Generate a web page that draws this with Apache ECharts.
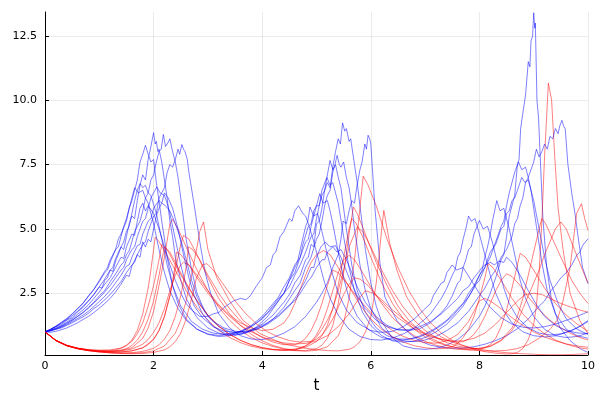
<!DOCTYPE html>
<html>
<head>
<meta charset="utf-8">
<script src="https://cdn.jsdelivr.net/npm/echarts@6/dist/echarts.min.js"></script>
<style>html,body{margin:0;padding:0;background:#fff}#c{width:600px;height:400px}</style>
</head>
<body>
<div id="c"></div>
<script>
// Axis settings
const xTicks = [0, 2, 4, 6, 8, 10];
const yTickLabels = ["2.5", "5.0", "7.5", "10.0", "12.5"];
const xName = "t";

// Prey (blue) trajectories: [t, value]
const prey1 = [[0,1],[0.1,1.08],[0.2,1.2],[0.3,1.28],[0.4,1.45],[0.5,1.55],[0.6,1.78],[0.7,1.95],[0.8,2.2],[0.9,2.45],[1.0,2.75],[1.05,2.7],[1.1,3.0],[1.15,3.1],[1.2,3.4],[1.25,3.35],[1.3,3.75],[1.35,4.0],[1.4,4.3],[1.45,4.2],[1.5,4.7],[1.55,5.2],[1.6,5.5],[1.65,5.4],[1.7,6.1],[1.75,6.7],[1.8,7.1],[1.85,6.9],[1.9,7.7],[1.95,8.2],[2.0,8.74],[2.03,8.3],[2.05,8.4],[2.08,8.0],[2.1,8.1],[2.15,7.6],[2.2,6.9],[2.25,6.2],[2.3,5.3],[2.35,4.7],[2.4,3.9],[2.5,3.0],[2.6,2.3],[2.7,1.9],[2.8,1.55],[3.0,1.15],[3.2,0.95],[3.4,0.85],[3.6,0.9],[3.8,1.05],[4.0,1.3],[4.2,1.65],[4.4,2.15],[4.5,2.45],[4.6,2.9],[4.7,3.2],[4.8,3.8],[4.85,3.9],[4.9,4.4],[4.95,4.3],[5.0,5.2],[5.05,5.3],[5.1,5.8],[5.15,6.5],[5.2,6.8],[5.25,6.6],[5.3,7.4],[5.35,8.0],[5.4,8.5],[5.44,8.3],[5.48,9.12],[5.52,8.8],[5.55,8.9],[5.6,8.4],[5.63,8.5],[5.7,7.5],[5.75,6.8],[5.8,5.9],[5.9,4.2],[6.0,2.9],[6.1,2.0],[6.2,1.4],[6.4,0.75],[6.6,0.45],[6.8,0.35],[7.0,0.32],[7.2,0.36],[7.4,0.48],[7.6,0.7],[7.8,1.05],[8.0,1.6],[8.1,2.0],[8.2,2.5],[8.3,3.1],[8.4,3.8],[8.45,4.0],[8.5,4.7],[8.55,5.5],[8.6,5.9],[8.65,6.3],[8.7,7.5],[8.73,7.7],[8.76,8.9],[8.8,9.5],[8.85,10.2],[8.9,11.5],[8.93,11.3],[8.95,12.3],[8.98,12.5],[9.0,13.4],[9.02,12.8],[9.03,13.0],[9.06,10.0],[9.09,9.3],[9.12,7.8],[9.17,5.4],[9.24,3.5],[9.33,2.2],[9.48,1.17],[9.67,0.66],[9.85,0.35],[10,0.2]];
const prey2 = [[0,1],[0.1,1.05],[0.2,1.12],[0.3,1.2],[0.4,1.32],[0.5,1.45],[0.6,1.6],[0.7,1.75],[0.8,1.95],[0.9,2.15],[1.0,2.4],[1.1,2.6],[1.2,2.95],[1.3,3.25],[1.4,3.6],[1.45,3.7],[1.5,4.0],[1.55,4.15],[1.6,4.5],[1.65,4.9],[1.7,5.1],[1.75,5.3],[1.8,5.7],[1.85,6.2],[1.9,6.4],[1.95,6.9],[2.0,7.1],[2.05,7.6],[2.1,8.0],[2.14,8.1],[2.18,8.67],[2.22,8.2],[2.25,8.3],[2.3,8.5],[2.35,8.0],[2.4,7.6],[2.45,7.0],[2.5,6.2],[2.55,5.4],[2.6,4.6],[2.7,3.4],[2.8,2.5],[2.9,2.0],[3.0,1.6],[3.2,1.2],[3.4,1.0],[3.6,0.95],[3.8,1.02],[4.0,1.2],[4.2,1.5],[4.4,1.95],[4.6,2.6],[4.7,2.9],[4.8,3.5],[4.9,3.9],[5.0,4.6],[5.05,4.8],[5.1,5.3],[5.15,5.9],[5.2,6.3],[5.25,6.5],[5.3,7.2],[5.34,7.5],[5.38,7.86],[5.42,7.5],[5.45,7.4],[5.5,7.6],[5.55,7.0],[5.6,6.6],[5.65,5.9],[5.7,5.0],[5.8,3.6],[5.9,2.6],[6.0,1.9],[6.2,1.15],[6.4,0.8],[6.6,0.65],[6.8,0.62],[7.0,0.68],[7.2,0.82],[7.4,1.05],[7.6,1.35],[7.8,1.8],[8.0,2.4],[8.1,2.7],[8.2,3.1],[8.3,3.4],[8.4,3.9],[8.5,4.2],[8.6,4.7],[8.65,5.2],[8.7,5.4],[8.75,5.9],[8.8,6.2],[8.85,6.8],[8.9,7.0],[8.95,7.3],[9.0,7.6],[9.05,8.1],[9.1,7.8],[9.15,8.0],[9.2,8.3],[9.25,8.1],[9.3,8.6],[9.35,8.5],[9.4,8.9],[9.45,8.7],[9.48,9.0],[9.52,9.22],[9.55,9.0],[9.58,8.9],[9.63,7.5],[9.7,6.4],[9.76,5.6],[9.83,4.5],[9.9,3.5],[10,2.87]];
const prey3 = [[0,1],[0.1,1.03],[0.2,1.1],[0.3,1.15],[0.4,1.25],[0.5,1.35],[0.6,1.47],[0.7,1.58],[0.8,1.72],[0.9,1.9],[1.0,2.05],[1.1,2.25],[1.2,2.45],[1.3,2.7],[1.4,2.95],[1.5,3.3],[1.6,3.6],[1.65,3.7],[1.7,4.0],[1.8,4.4],[1.85,4.5],[1.9,4.9],[2.0,5.5],[2.05,5.6],[2.1,6.2],[2.15,6.4],[2.2,6.6],[2.25,7.2],[2.3,7.5],[2.35,7.4],[2.4,7.7],[2.45,8.1],[2.48,7.9],[2.52,8.28],[2.55,8.1],[2.58,8.0],[2.62,7.7],[2.65,7.2],[2.75,5.9],[2.85,4.5],[2.95,3.3],[3.05,2.5],[3.2,1.7],[3.4,1.15],[3.6,0.85],[3.8,0.72],[4.0,0.7],[4.2,0.78],[4.4,0.95],[4.6,1.2],[4.8,1.6],[5.0,2.15],[5.1,2.5],[5.2,2.9],[5.3,3.5],[5.4,4.0],[5.45,4.6],[5.49,5.3],[5.55,5.2],[5.6,5.7],[5.65,6.1],[5.7,6.0],[5.74,6.6],[5.8,7.3],[5.84,7.6],[5.89,8.3],[5.92,8.1],[5.95,8.64],[5.98,8.5],[6.0,8.3],[6.08,5.7],[6.17,3.65],[6.26,2.35],[6.48,1.44],[6.7,0.95],[6.9,0.65],[7.1,0.48],[7.3,0.4],[7.5,0.36],[7.7,0.37],[7.9,0.42],[8.1,0.52],[8.3,0.66],[8.5,0.85],[8.7,1.12],[8.9,1.5],[9.1,2.0],[9.2,2.2],[9.3,2.55],[9.4,2.8],[9.5,3.1],[9.6,3.3],[9.7,3.6],[9.8,4.0],[9.85,4.1],[9.9,4.35],[10,4.62]];
const prey4 = [[0,1],[0.1,1.1],[0.2,1.22],[0.3,1.35],[0.4,1.5],[0.5,1.68],[0.6,1.9],[0.7,2.1],[0.8,2.4],[0.9,2.65],[1.0,3.0],[1.1,3.35],[1.15,3.5],[1.2,3.8],[1.3,4.2],[1.35,4.6],[1.4,4.8],[1.5,5.3],[1.55,5.8],[1.6,6.1],[1.65,6.5],[1.7,6.9],[1.75,7.6],[1.8,7.9],[1.85,8.25],[1.9,7.9],[1.95,7.6],[2.0,7.7],[2.05,6.8],[2.1,6.1],[2.15,5.3],[2.25,3.9],[2.35,2.8],[2.45,2.1],[2.6,1.5],[2.8,1.1],[3.0,0.9],[3.2,0.82],[3.4,0.85],[3.6,0.98],[3.8,1.2],[4.0,1.5],[4.2,1.95],[4.4,2.5],[4.5,2.75],[4.6,3.2],[4.7,3.6],[4.8,4.1],[4.9,4.7],[4.95,4.8],[5.0,5.4],[5.05,5.9],[5.1,6.3],[5.15,6.5],[5.2,7.1],[5.25,7.66],[5.3,7.3],[5.35,7.5],[5.4,7.0],[5.45,6.6],[5.55,5.0],[5.65,3.6],[5.75,2.6],[5.9,1.75],[6.1,1.15],[6.3,0.85],[6.5,0.72],[6.7,0.72],[6.9,0.8],[7.1,0.98],[7.3,1.25],[7.5,1.6],[7.7,2.1],[7.8,2.35],[7.9,2.75],[8.0,3.0],[8.1,3.5],[8.2,3.9],[8.3,4.5],[8.4,5.1],[8.45,5.3],[8.5,5.9],[8.55,6.4],[8.6,6.8],[8.65,7.2],[8.72,7.6],[8.78,7.3],[8.85,7.4],[8.9,7.0],[8.95,6.5],[9.05,5.1],[9.15,3.7],[9.25,2.6],[9.4,1.7],[9.6,1.1],[9.8,0.85],[10,0.75]];
const prey5 = [[0,1],[0.1,1.06],[0.2,1.15],[0.3,1.24],[0.4,1.38],[0.5,1.5],[0.6,1.68],[0.7,1.85],[0.8,2.05],[0.9,2.3],[1.0,2.55],[1.1,2.85],[1.2,3.1],[1.3,3.5],[1.4,3.9],[1.45,3.85],[1.5,4.3],[1.6,4.8],[1.65,4.75],[1.7,5.3],[1.75,5.8],[1.8,6.0],[1.85,5.7],[1.9,5.9],[2.0,5.6],[2.1,5.0],[2.2,4.3],[2.3,3.6],[2.4,3.0],[2.5,2.5],[2.6,2.1],[2.7,1.85],[2.85,1.6],[3.0,1.6],[3.1,1.7],[3.2,1.75],[3.3,1.95],[3.47,2.2],[3.6,2.3],[3.7,2.25],[3.78,2.4],[3.9,2.8],[4.0,3.1],[4.08,3.5],[4.15,3.6],[4.2,4.0],[4.25,4.1],[4.33,4.7],[4.4,4.9],[4.5,5.4],[4.55,5.3],[4.6,5.7],[4.67,5.9],[4.72,5.7],[4.75,5.6],[4.8,5.5],[4.85,5.2],[4.95,4.5],[5.05,3.7],[5.15,2.9],[5.25,2.3],[5.4,1.65],[5.6,1.1],[5.8,0.82],[6.0,0.7],[6.2,0.68],[6.4,0.76],[6.6,0.92],[6.8,1.15],[7.0,1.5],[7.1,1.7],[7.2,2.0],[7.3,2.3],[7.4,2.7],[7.5,3.2],[7.55,3.4],[7.6,3.9],[7.65,4.1],[7.7,4.6],[7.75,5.0],[7.8,5.5],[7.85,5.3],[7.92,5.4],[7.96,5.1],[8.0,4.8],[8.1,4.0],[8.2,3.2],[8.3,2.5],[8.45,1.8],[8.6,1.35],[8.8,1.0],[9.0,0.85],[9.2,0.8],[9.4,0.85],[9.6,0.98],[9.8,1.15],[10,1.4]];
const prey6 = [[0,1],[0.1,1.09],[0.2,1.2],[0.3,1.33],[0.4,1.47],[0.5,1.62],[0.6,1.8],[0.7,2.0],[0.8,2.2],[0.9,2.45],[1.0,2.75],[1.1,3.05],[1.2,3.4],[1.25,3.5],[1.3,3.85],[1.4,4.3],[1.45,4.5],[1.5,4.9],[1.55,5.1],[1.6,5.6],[1.65,6.1],[1.7,6.5],[1.75,6.76],[1.8,6.6],[1.85,6.7],[1.9,6.4],[1.95,6.3],[2.05,5.6],[2.15,4.6],[2.25,3.6],[2.35,2.8],[2.5,2.0],[2.7,1.4],[2.9,1.1],[3.1,0.95],[3.3,0.9],[3.5,0.95],[3.7,1.1],[3.9,1.35],[4.1,1.75],[4.3,2.3],[4.4,2.5],[4.5,3.0],[4.6,3.3],[4.7,3.9],[4.8,4.5],[4.85,4.6],[4.9,5.1],[5.0,5.9],[5.05,5.9],[5.1,6.5],[5.19,7.0],[5.25,6.7],[5.3,6.8],[5.35,6.4],[5.4,6.0],[5.5,4.7],[5.6,3.5],[5.7,2.6],[5.85,1.75],[6.0,1.25],[6.2,0.85],[6.4,0.65],[6.6,0.6],[6.8,0.64],[7.0,0.78],[7.2,1.0],[7.4,1.3],[7.6,1.75],[7.7,2.0],[7.8,2.35],[7.9,2.7],[8.0,3.2],[8.05,3.4],[8.1,3.9],[8.15,4.3],[8.2,4.8],[8.25,5.4],[8.32,6.1],[8.38,5.7],[8.45,5.8],[8.5,5.4],[8.55,5.0],[8.65,4.0],[8.75,3.0],[8.85,2.3],[9.0,1.6],[9.2,1.1],[9.4,0.85],[9.6,0.78],[9.8,0.82],[10,0.95]];
const prey7 = [[0,1],[0.1,1.1],[0.2,1.22],[0.3,1.37],[0.4,1.52],[0.5,1.7],[0.6,1.9],[0.7,2.12],[0.8,2.38],[0.9,2.65],[1.0,2.95],[1.1,3.3],[1.15,3.4],[1.2,3.7],[1.3,4.2],[1.35,4.3],[1.4,4.7],[1.45,5.1],[1.5,5.4],[1.55,5.8],[1.6,6.2],[1.65,6.6],[1.72,6.4],[1.8,6.5],[1.85,6.2],[1.9,6.0],[2.0,5.2],[2.1,4.2],[2.2,3.3],[2.3,2.6],[2.45,1.9],[2.6,1.45],[2.8,1.1],[3.0,0.92],[3.2,0.86],[3.4,0.9],[3.6,1.02],[3.8,1.25],[4.0,1.6],[4.2,2.1],[4.3,2.35],[4.4,2.75],[4.5,3.1],[4.6,3.6],[4.7,3.9],[4.75,4.4],[4.85,5.1],[4.9,5.2],[4.95,5.7],[5.0,5.9],[5.06,6.37],[5.12,6.0],[5.2,6.1],[5.25,5.7],[5.3,5.2],[5.4,4.1],[5.5,3.1],[5.6,2.3],[5.75,1.6],[5.95,1.1],[6.2,0.78],[6.4,0.68],[6.6,0.68],[6.8,0.76],[7.0,0.92],[7.2,1.15],[7.4,1.45],[7.6,1.9],[7.7,2.1],[7.8,2.5],[7.9,2.8],[8.0,3.2],[8.1,3.5],[8.2,4.1],[8.3,4.4],[8.4,5.0],[8.45,5.1],[8.5,5.6],[8.55,5.7],[8.6,6.1],[8.65,6.2],[8.7,6.5],[8.78,7.0],[8.84,6.8],[8.9,6.9],[8.95,6.5],[9.0,6.1],[9.1,5.0],[9.2,3.9],[9.3,3.0],[9.45,2.1],[9.6,1.5],[9.8,1.1],[10,0.9]];
const prey8 = [[0,1],[0.1,1.06],[0.2,1.13],[0.3,1.22],[0.4,1.34],[0.5,1.45],[0.6,1.6],[0.7,1.75],[0.8,1.92],[0.9,2.12],[1.0,2.32],[1.1,2.55],[1.2,2.8],[1.3,3.1],[1.4,3.4],[1.45,3.5],[1.5,3.8],[1.6,4.2],[1.65,4.3],[1.7,4.7],[1.8,5.3],[1.85,5.4],[1.9,5.8],[1.95,6.2],[2.0,6.4],[2.06,6.63],[2.12,6.4],[2.2,6.3],[2.25,6.0],[2.3,5.6],[2.4,4.6],[2.5,3.6],[2.6,2.8],[2.75,2.0],[2.9,1.55],[3.1,1.2],[3.3,1.02],[3.5,0.98],[3.7,1.02],[3.9,1.15],[4.1,1.35],[4.3,1.65],[4.5,2.05],[4.6,2.2],[4.7,2.5],[4.85,3.0],[4.9,3.1],[5.0,3.5],[5.1,3.8],[5.15,3.8],[5.2,4.1],[5.3,4.3],[5.38,4.1],[5.45,4.2],[5.55,3.8],[5.65,3.3],[5.75,2.75],[5.9,2.15],[6.1,1.6],[6.3,1.25],[6.5,1.08],[6.7,1.05],[6.9,1.12],[7.1,1.35],[7.3,1.75],[7.4,2.0],[7.5,2.4],[7.6,2.9],[7.65,3.0],[7.7,3.5],[7.75,3.8],[7.8,4.2],[7.85,4.3],[7.9,4.8],[8.0,5.33],[8.07,5.0],[8.15,5.1],[8.25,4.4],[8.35,3.5],[8.45,2.7],[8.55,2.1],[8.7,1.55],[8.9,1.15],[9.1,0.95],[9.3,0.88],[9.5,0.92],[9.7,1.05],[9.85,1.22],[10,1.44]];
const prey9 = [[0,1],[0.1,1.04],[0.2,1.1],[0.3,1.18],[0.4,1.28],[0.5,1.4],[0.6,1.52],[0.7,1.65],[0.8,1.8],[0.9,1.98],[1.0,2.18],[1.1,2.38],[1.2,2.62],[1.3,2.9],[1.4,3.2],[1.5,3.55],[1.55,3.6],[1.6,3.9],[1.7,4.35],[1.75,4.4],[1.8,4.8],[1.9,5.3],[1.95,5.4],[2.0,5.8],[2.1,6.1],[2.15,6.0],[2.2,6.4],[2.27,6.2],[2.35,5.8],[2.45,5.0],[2.55,4.0],[2.65,3.1],[2.75,2.4],[2.9,1.7],[3.1,1.2],[3.3,0.95],[3.5,0.88],[3.7,0.95],[3.9,1.2],[4.1,1.6],[4.3,2.2],[4.4,2.5],[4.5,3.0],[4.6,3.5],[4.65,3.7],[4.7,4.2],[4.8,5.1],[4.84,5.3],[4.88,5.85],[4.95,5.5],[5.02,5.6],[5.1,4.9],[5.2,4.0],[5.3,3.2],[5.4,2.5],[5.55,1.85],[5.75,1.35],[6.0,1.05],[6.2,0.98],[6.4,1.02],[6.6,1.2],[6.8,1.5],[7.0,1.9],[7.1,2.1],[7.15,2.4],[7.3,2.9],[7.35,2.95],[7.4,3.3],[7.5,3.6],[7.58,3.4],[7.7,3.5],[7.85,3.0],[8.0,2.5],[8.2,1.95],[8.4,1.55],[8.6,1.3],[8.8,1.18],[9.0,1.15],[9.2,1.2],[9.4,1.3],[9.6,1.45],[9.8,1.6],[10,1.78]];
const prey10 = [[0,1],[0.1,0.98],[0.2,1.02],[0.3,1.08],[0.4,1.15],[0.5,1.25],[0.6,1.35],[0.7,1.48],[0.8,1.6],[0.9,1.75],[1.0,1.92],[1.1,2.1],[1.2,2.3],[1.3,2.55],[1.4,2.85],[1.5,3.2],[1.55,3.15],[1.6,3.55],[1.7,4.0],[1.75,3.9],[1.8,4.5],[1.85,4.3],[1.9,4.6],[1.95,4.5],[2.0,5.0],[2.05,5.5],[2.1,5.8],[2.15,6.0],[2.22,5.9],[2.3,5.7],[2.4,5.2],[2.5,4.6],[2.6,3.8],[2.7,3.0],[2.8,2.35],[2.95,1.75],[3.1,1.4],[3.3,1.15],[3.5,1.02],[3.7,1.0],[3.9,1.1],[4.1,1.3],[4.3,1.6],[4.5,2.0],[4.65,2.45],[4.8,3.0],[4.9,3.5],[4.95,3.5],[5.0,3.9],[5.08,4.3],[5.16,4.49],[5.25,4.3],[5.35,4.35],[5.45,3.9],[5.6,3.1],[5.75,2.4],[5.9,1.9],[6.1,1.45],[6.3,1.2],[6.5,1.08],[6.7,1.08],[6.9,1.2],[7.1,1.4],[7.3,1.7],[7.5,2.1],[7.6,2.3],[7.7,2.6],[7.8,2.75],[7.9,3.1],[8.05,3.5],[8.1,3.6],[8.2,3.7],[8.28,3.6],[8.35,3.75],[8.45,3.7],[8.5,3.9],[8.6,3.7],[8.75,3.2],[8.9,2.6],[9.05,2.05],[9.2,1.6],[9.4,1.25],[9.6,1.05],[9.8,0.96],[10,0.93]];

// Predator (red) trajectories: [t, value]
const pred1 = [[0,1],[0.2,0.67],[0.4,0.47],[0.6,0.36],[0.8,0.29],[1.0,0.25],[1.2,0.24],[1.4,0.27],[1.6,0.38],[1.8,0.75],[1.9,1.15],[2.0,1.8],[2.1,2.8],[2.2,3.9],[2.3,5.2],[2.35,5.37],[2.45,5.0],[2.6,4.3],[2.8,3.4],[3.0,2.6],[3.2,1.95],[3.4,1.45],[3.6,1.05],[3.8,0.78],[4.0,0.57],[4.2,0.43],[4.4,0.33],[4.6,0.27],[4.8,0.25],[5.0,0.28],[5.2,0.42],[5.4,0.85],[5.5,1.35],[5.6,2.3],[5.7,3.8],[5.8,5.8],[5.86,7.05],[5.95,6.7],[6.1,5.9],[6.3,4.6],[6.5,3.5],[6.7,2.6],[6.9,1.9],[7.1,1.35],[7.3,0.95],[7.5,0.67],[7.7,0.47],[7.9,0.33],[8.1,0.23],[8.3,0.17],[8.5,0.14],[8.6,0.15],[8.7,0.2],[8.8,0.35],[8.9,0.7],[9.0,1.3],[9.05,2.0],[9.1,3.3],[9.15,5.3],[9.2,7.8],[9.27,10.67],[9.33,10.0],[9.39,7.7],[9.45,5.8],[9.54,4.2],[9.67,2.5],[9.85,1.44],[10,0.93]];
const pred2 = [[0,1],[0.2,0.66],[0.4,0.46],[0.6,0.35],[0.8,0.28],[1.0,0.24],[1.2,0.22],[1.4,0.22],[1.6,0.26],[1.8,0.38],[2.0,0.7],[2.1,1.05],[2.2,1.6],[2.3,2.4],[2.4,3.4],[2.5,4.4],[2.55,4.75],[2.65,4.6],[2.8,4.0],[3.0,3.1],[3.2,2.3],[3.4,1.7],[3.6,1.25],[3.8,0.9],[4.0,0.65],[4.2,0.47],[4.4,0.35],[4.6,0.28],[4.8,0.27],[5.0,0.35],[5.1,0.48],[5.2,0.75],[5.3,1.25],[5.4,2.1],[5.5,3.3],[5.6,4.8],[5.68,5.85],[5.75,5.6],[5.9,4.8],[6.1,3.7],[6.3,2.8],[6.5,2.0],[6.7,1.45],[6.9,1.05],[7.1,0.76],[7.3,0.56],[7.5,0.42],[7.7,0.33],[7.9,0.28],[8.1,0.26],[8.3,0.26],[8.5,0.28],[8.7,0.35],[8.9,0.5],[9.1,0.75],[9.3,1.1],[9.43,1.44],[9.54,2.2],[9.67,3.5],[9.73,4.55],[9.79,5.6],[9.88,5.98],[9.94,5.4],[10,4.94]];
const pred3 = [[0,1],[0.2,0.66],[0.4,0.46],[0.6,0.34],[0.8,0.27],[1.0,0.22],[1.2,0.19],[1.4,0.17],[1.6,0.17],[1.8,0.19],[2.0,0.26],[2.2,0.45],[2.4,0.95],[2.5,1.45],[2.6,2.2],[2.7,3.2],[2.8,4.3],[2.85,4.9],[2.92,5.27],[3.0,4.2],[3.16,3.12],[3.4,2.2],[3.65,1.44],[3.96,0.93],[4.38,0.54],[4.8,0.36],[5.0,0.31],[5.2,0.27],[5.4,0.26],[5.6,0.32],[5.7,0.42],[5.8,0.62],[5.9,0.98],[6.0,1.6],[6.05,2.2],[6.1,2.9],[6.15,3.9],[6.2,5.0],[6.24,5.72],[6.35,4.43],[6.48,3.4],[6.66,2.35],[6.9,1.57],[7.1,1.1],[7.3,0.8],[7.5,0.6],[7.7,0.46],[7.9,0.36],[8.1,0.29],[8.3,0.23],[8.5,0.19],[8.7,0.16],[8.9,0.14],[9.1,0.12],[9.3,0.11],[9.5,0.11],[9.7,0.12],[9.9,0.14],[10,0.15]];
const pred4 = [[0,1],[0.2,0.67],[0.4,0.48],[0.6,0.37],[0.8,0.31],[1.0,0.29],[1.2,0.3],[1.4,0.37],[1.5,0.48],[1.6,0.68],[1.7,1.05],[1.8,1.7],[1.9,2.7],[1.95,3.4],[2.0,4.2],[2.03,4.68],[2.1,4.5],[2.2,4.15],[2.4,3.4],[2.6,2.6],[2.8,1.95],[3.0,1.45],[3.2,1.06],[3.4,0.78],[3.6,0.58],[3.8,0.44],[4.0,0.35],[4.2,0.3],[4.4,0.28],[4.6,0.3],[4.8,0.4],[5.0,0.62],[5.1,0.85],[5.2,1.25],[5.3,1.9],[5.4,2.8],[5.5,3.9],[5.6,5.0],[5.65,5.4],[5.72,5.25],[5.85,4.7],[6.0,3.9],[6.2,2.9],[6.4,2.1],[6.6,1.5],[6.8,1.1],[7.0,0.8],[7.2,0.6],[7.4,0.46],[7.6,0.38],[7.8,0.34],[8.0,0.36],[8.2,0.45],[8.4,0.68],[8.6,1.15],[8.7,1.6],[8.8,2.3],[8.9,3.2],[9.0,4.1],[9.1,5.0],[9.15,5.4],[9.22,5.2],[9.35,4.6],[9.5,3.9],[9.7,3.0],[9.85,2.5],[10,2.1]];
const pred5 = [[0,1],[0.2,0.67],[0.4,0.47],[0.6,0.36],[0.8,0.29],[1.0,0.25],[1.2,0.24],[1.4,0.26],[1.6,0.33],[1.8,0.52],[1.9,0.7],[2.0,0.98],[2.1,1.35],[2.2,1.9],[2.3,2.6],[2.4,3.2],[2.5,3.6],[2.55,3.7],[2.65,3.6],[2.8,3.2],[3.0,2.6],[3.2,2.05],[3.4,1.65],[3.6,1.35],[3.8,1.15],[4.0,1.05],[4.2,1.1],[4.4,1.35],[4.5,1.65],[4.6,2.1],[4.7,2.65],[4.8,3.2],[4.9,3.7],[5.0,4.0],[5.13,4.16],[5.25,4.0],[5.4,3.5],[5.6,2.75],[5.8,2.05],[6.0,1.5],[6.2,1.1],[6.4,0.8],[6.6,0.6],[6.8,0.46],[7.0,0.38],[7.2,0.34],[7.4,0.36],[7.5,0.42],[7.6,0.55],[7.7,0.78],[7.8,1.1],[7.9,1.6],[8.0,2.3],[8.1,3.1],[8.16,3.65],[8.25,3.5],[8.4,3.0],[8.6,2.3],[8.8,1.7],[9.0,1.25],[9.2,0.92],[9.4,0.68],[9.6,0.52],[9.8,0.4],[10,0.33]];
const pred6 = [[0,1],[0.2,0.67],[0.4,0.48],[0.6,0.36],[0.8,0.29],[1.0,0.26],[1.2,0.25],[1.4,0.29],[1.5,0.35],[1.6,0.47],[1.7,0.68],[1.8,1.0],[1.9,1.5],[2.0,2.2],[2.1,3.2],[2.2,4.3],[2.3,4.1],[2.4,3.7],[2.6,2.9],[2.8,2.2],[3.0,1.65],[3.2,1.22],[3.4,0.9],[3.6,0.67],[3.8,0.5],[4.0,0.39],[4.2,0.32],[4.4,0.3],[4.6,0.33],[4.8,0.45],[4.9,0.58],[5.0,0.8],[5.1,1.1],[5.2,1.45],[5.3,1.9],[5.4,2.6],[5.5,3.4],[5.6,4.3],[5.75,5.07],[5.85,4.9],[6.0,4.3],[6.2,3.4],[6.4,2.6],[6.6,1.95],[6.8,1.45],[7.0,1.05],[7.2,0.78],[7.4,0.58],[7.6,0.45],[7.8,0.37],[8.0,0.34],[8.1,0.38],[8.2,0.5],[8.3,0.75],[8.4,1.2],[8.5,1.85],[8.6,2.7],[8.7,3.6],[8.75,4.05],[8.85,3.9],[9.0,3.4],[9.2,2.7],[9.4,2.1],[9.6,1.65],[9.8,1.3],[10,1.02]];
const pred7 = [[0,1],[0.2,0.66],[0.4,0.47],[0.6,0.36],[0.8,0.3],[1.0,0.27],[1.2,0.27],[1.3,0.3],[1.4,0.36],[1.5,0.46],[1.6,0.63],[1.7,0.92],[1.8,1.35],[1.9,2.0],[2.0,2.8],[2.1,3.8],[2.15,4.4],[2.25,4.2],[2.4,3.6],[2.6,2.85],[2.8,2.2],[3.0,1.65],[3.2,1.22],[3.4,0.9],[3.6,0.67],[3.8,0.5],[4.0,0.38],[4.2,0.31],[4.4,0.28],[4.6,0.3],[4.7,0.36],[4.8,0.46],[4.9,0.62],[5.0,0.88],[5.1,1.3],[5.2,1.9],[5.3,2.6],[5.4,3.3],[5.5,3.8],[5.6,3.97],[5.7,3.8],[5.85,3.3],[6.0,2.75],[6.2,2.1],[6.4,1.55],[6.6,1.15],[6.8,0.85],[7.0,0.63],[7.2,0.48],[7.4,0.38],[7.6,0.32],[7.8,0.3],[8.0,0.33],[8.2,0.43],[8.4,0.65],[8.6,1.05],[8.7,1.4],[8.8,1.9],[8.9,2.4],[9.0,2.9],[9.1,3.4],[9.2,4.0],[9.3,4.5],[9.4,5.0],[9.5,5.27],[9.6,5.0],[9.75,4.2],[9.9,3.4],[10,2.9]];
const pred8 = [[0,1],[0.2,0.66],[0.4,0.46],[0.6,0.35],[0.8,0.28],[1.0,0.24],[1.2,0.22],[1.4,0.22],[1.6,0.26],[1.8,0.38],[1.9,0.5],[2.0,0.72],[2.1,1.05],[2.2,1.6],[2.3,2.4],[2.4,3.6],[2.42,4.1],[2.5,4.0],[2.65,3.6],[2.8,3.1],[3.0,2.5],[3.2,2.0],[3.4,1.6],[3.6,1.25],[3.8,1.0],[4.0,0.8],[4.2,0.66],[4.4,0.57],[4.6,0.53],[4.8,0.55],[5.0,0.65],[5.2,0.85],[5.4,1.2],[5.6,1.7],[5.75,2.2],[5.9,2.6],[6.05,2.5],[6.2,2.25],[6.4,1.85],[6.6,1.5],[6.8,1.2],[7.0,0.95],[7.2,0.78],[7.4,0.66],[7.6,0.6],[7.7,0.62],[7.8,0.72],[7.9,0.9],[8.0,1.2],[8.1,1.6],[8.2,2.1],[8.3,2.6],[8.4,3.0],[8.5,3.26],[8.6,3.15],[8.75,2.8],[8.9,2.35],[9.1,1.85],[9.3,1.45],[9.5,1.15],[9.7,0.92],[9.85,0.78],[10,0.68]];
const pred9 = [[0,1],[0.2,0.66],[0.4,0.46],[0.6,0.34],[0.8,0.27],[1.0,0.22],[1.2,0.19],[1.4,0.18],[1.6,0.19],[1.8,0.24],[2.0,0.36],[2.1,0.5],[2.2,0.72],[2.3,1.05],[2.4,1.6],[2.5,2.4],[2.6,3.5],[2.64,4.3],[2.72,4.2],[2.85,3.8],[3.0,3.2],[3.2,2.5],[3.4,1.9],[3.6,1.42],[3.8,1.05],[4.0,0.78],[4.2,0.6],[4.4,0.5],[4.6,0.5],[4.7,0.58],[4.8,0.75],[4.9,1.05],[5.0,1.5],[5.1,2.1],[5.2,2.8],[5.3,3.4],[5.4,3.3],[5.55,2.9],[5.75,2.35],[6.0,1.75],[6.2,1.35],[6.4,1.05],[6.6,0.82],[6.8,0.67],[7.0,0.58],[7.2,0.56],[7.4,0.65],[7.6,0.9],[7.8,1.4],[7.9,1.8],[8.0,2.2],[8.1,2.3],[8.2,2.2],[8.4,1.9],[8.6,1.55],[8.8,1.25],[9.0,1.0],[9.2,0.8],[9.4,0.65],[9.6,0.53],[9.8,0.45],[10,0.4]];
const pred10 = [[0,1],[0.2,0.67],[0.4,0.47],[0.6,0.35],[0.8,0.27],[1.0,0.22],[1.2,0.18],[1.4,0.16],[1.6,0.15],[1.8,0.16],[2.0,0.2],[2.2,0.3],[2.3,0.42],[2.4,0.62],[2.5,0.95],[2.6,1.5],[2.7,2.3],[2.79,3.1],[2.9,3.6],[2.98,3.65],[3.1,3.4],[3.3,2.8],[3.5,2.2],[3.7,1.7],[3.9,1.3],[4.1,1.0],[4.3,0.8],[4.5,0.66],[4.7,0.6],[4.9,0.63],[5.0,0.72],[5.1,0.88],[5.2,1.15],[5.3,1.5],[5.4,1.95],[5.5,2.45],[5.6,2.85],[5.7,3.1],[5.8,3.05],[5.95,2.8],[6.1,2.4],[6.3,1.95],[6.5,1.55],[6.7,1.25],[6.9,1.0],[7.1,0.82],[7.3,0.7],[7.5,0.64],[7.7,0.65],[7.9,0.75],[8.1,0.95],[8.3,1.3],[8.5,1.75],[8.7,2.2],[8.85,2.45],[9.0,2.5],[9.15,2.45],[9.3,2.3],[9.5,2.1],[9.7,1.95],[9.85,1.85],[10,1.76]];

const preyList = [prey1, prey2, prey3, prey4, prey5, prey6, prey7, prey8, prey9, prey10];
const predList = [pred1, pred2, pred3, pred4, pred5, pred6, pred7, pred8, pred9, pred10];

const series = [];
for (let i = 0; i < preyList.length; i++) {
  series.push({ type: 'line', data: preyList[i], showSymbol: false, symbol: 'none', silent: true,
    lineStyle: { color: '#0000ff', width: 1, opacity: 0.5 }, z: 2 });
  series.push({ type: 'line', data: predList[i], showSymbol: false, symbol: 'none', silent: true,
    lineStyle: { color: '#ff0000', width: 1, opacity: 0.5 }, z: 2 });
}

const font = 'DejaVu Sans';
const chart = echarts.init(document.getElementById('c'), null, { renderer: 'canvas' });
chart.setOption({
  animation: false,
  backgroundColor: '#ffffff',
  grid: { left: 45, right: 12, top: 12, bottom: 45, containLabel: false },
  xAxis: {
    type: 'value', min: xTicks[0], max: xTicks[xTicks.length - 1], interval: xTicks[1] - xTicks[0],
    name: xName, nameLocation: 'middle', nameGap: 24,
    nameTextStyle: { fontFamily: font, fontSize: 15, color: '#000' },
    axisLine: { show: true, onZero: false, lineStyle: { color: '#000', width: 1 } },
    axisTick: { show: true, inside: true, length: 4, lineStyle: { color: '#000' } },
    axisLabel: { fontFamily: font, fontSize: 11, color: '#000', margin: 6 },
    splitLine: { show: true, lineStyle: { color: '#000', opacity: 0.08, width: 1 } }
  },
  yAxis: {
    type: 'value', min: 0.1, max: 13.43, minInterval: 2.5, maxInterval: 2.5, splitNumber: 5,
    axisLine: { show: true, onZero: false, lineStyle: { color: '#000', width: 1 } },
    axisTick: { show: true, inside: true, length: 4, lineStyle: { color: '#000' } },
    axisLabel: { fontFamily: font, fontSize: 11, color: '#000', margin: 8,
      showMinLabel: false, showMaxLabel: false,
      formatter: function (v) { const s = v.toFixed(1); return yTickLabels.indexOf(s) >= 0 ? s : ''; } },
    splitLine: { show: true, showMinLine: false, showMaxLine: false, lineStyle: { color: '#000', opacity: 0.08, width: 1 } }
  },
  series: series
});
</script>
</body>
</html>
